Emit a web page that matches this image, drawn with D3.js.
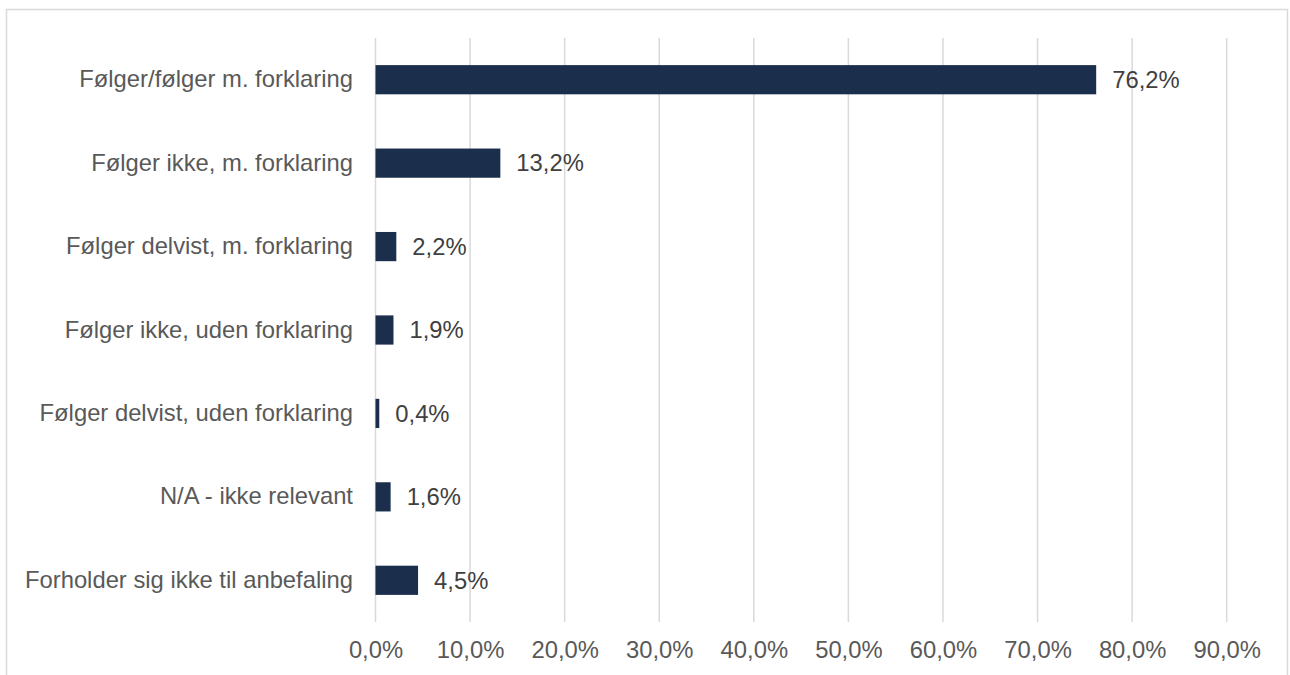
<!DOCTYPE html>
<html><head><meta charset="utf-8">
<script src="https://cdn.jsdelivr.net/npm/d3@7"></script>
<style>html,body{margin:0;padding:0;background:#fff;}svg{display:block;}</style>
</head><body>
<svg id="chart" width="1290" height="675"></svg>
<script>
const categories = [
  "Følger/følger m. forklaring",
  "Følger ikke, m. forklaring",
  "Følger delvist, m. forklaring",
  "Følger ikke, uden forklaring",
  "Følger delvist, uden forklaring",
  "N/A - ikke relevant",
  "Forholder sig ikke til anbefaling"
];
const values = [76.2, 13.2, 2.2, 1.9, 0.4, 1.6, 4.5];
const tickValues = [0, 10, 20, 30, 40, 50, 60, 70, 80, 90];

const svg = d3.select("#chart");
const fmt = v => v.toFixed(1).replace(".", ",") + "%";
const font = "'Liberation Sans', Arial, sans-serif";
const textColor = "#595959";
const fs = 23.8;

// outer border
svg.append("rect").attr("x", 6.5).attr("y", 9.5).attr("width", 1281).attr("height", 700)
  .attr("fill", "none").attr("stroke", "#d9d9d9").attr("stroke-width", 1.5);

const x = d3.scaleLinear().domain([0, 90]).range([375.5, 1226.7]);
const y = d3.scaleBand().domain(categories).range([38, 622]).paddingInner(0.65).paddingOuter(0.325);

// gridlines
svg.append("g").selectAll("line").data(tickValues).join("line")
  .attr("x1", d => x(d)).attr("x2", d => x(d))
  .attr("y1", 38).attr("y2", 622)
  .attr("stroke", "#d9d9d9").attr("stroke-width", 1.5);

// x axis tick labels
const xAxis = d3.axisBottom(x).tickValues(tickValues).tickFormat(d => fmt(d)).tickSize(0).tickPadding(0);
const gx = svg.append("g").attr("transform", "translate(0,641)").call(xAxis);
gx.select(".domain").remove();
gx.selectAll("text").attr("font-family", font).attr("font-size", fs).attr("fill", textColor).attr("dy", "0.71em");

// y axis labels
const yAxis = d3.axisLeft(y).tickSize(0).tickPadding(0);
const gy = svg.append("g").attr("transform", "translate(353,0)").call(yAxis);
gy.select(".domain").remove();
gy.selectAll("text").attr("font-family", font).attr("font-size", fs).attr("fill", textColor);

// bars
svg.append("g").selectAll("rect").data(values).join("rect")
  .attr("x", x(0))
  .attr("y", (d, i) => y(categories[i]))
  .attr("width", d => x(d) - x(0))
  .attr("height", y.bandwidth())
  .attr("fill", "#1b2e4c");

// value labels
svg.append("g").selectAll("text").data(values).join("text")
  .attr("x", d => x(d) + 16)
  .attr("y", (d, i) => y(categories[i]) + y.bandwidth() / 2)
  .attr("dy", "0.35em")
  .attr("font-family", font).attr("font-size", fs).attr("fill", "#404040")
  .text(d => fmt(d));
</script>
</body></html>
